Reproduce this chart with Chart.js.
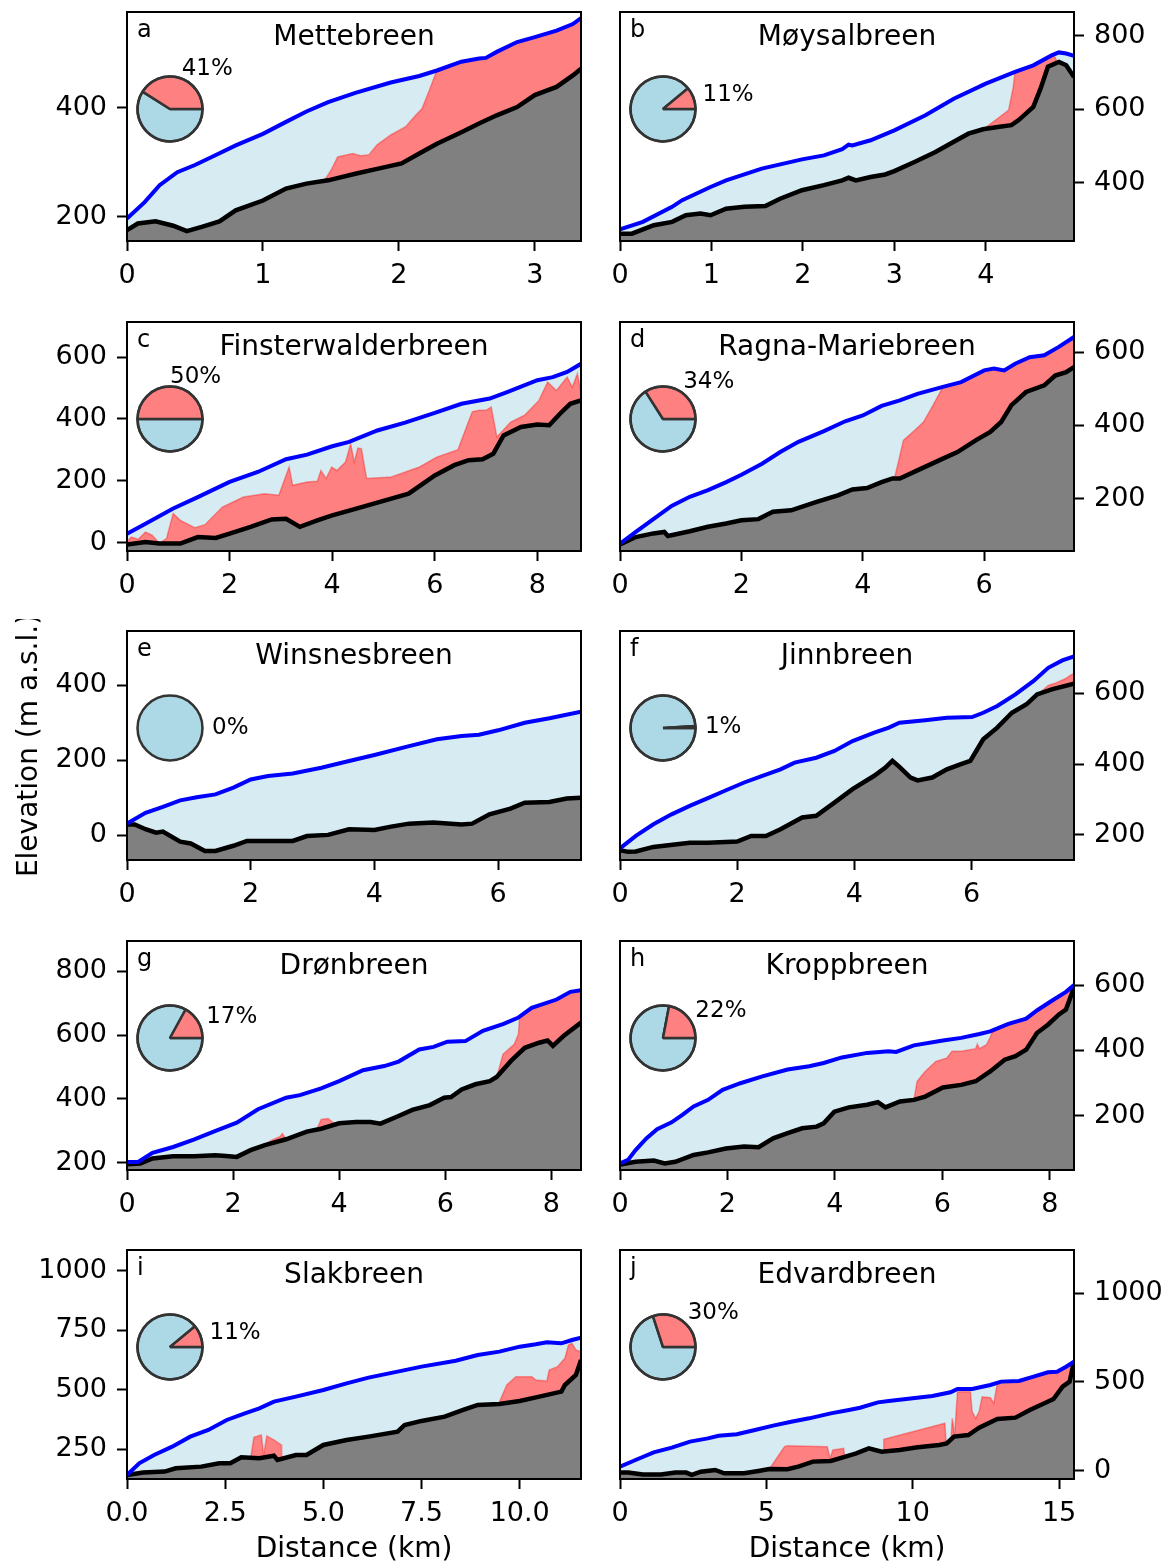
<!DOCTYPE html>
<html>
<head>
<meta charset="utf-8">
<script src="https://cdn.jsdelivr.net/npm/chart.js@4.4.1/dist/chart.umd.min.js"></script>
<style>
  html, body { margin: 0; padding: 0; background: #fff; }
  body { position: relative; width: 1167px; height: 1563px; overflow: hidden; }
  canvas { position: absolute; }
</style>
</head>
<body>
<script>
// profiles: [distance (km), elevation (m a.s.l.)]
const metteSurface = [[0,197],[0.13,227],[0.24,258],[0.37,282],[0.5,295],[0.65,313],[0.8,331],[1.0,352],[1.17,374],[1.32,393],[1.48,410],[1.68,427],[1.94,446],[2.15,458],[2.28,468],[2.46,484],[2.59,490],[2.64,491],[2.72,502],[2.87,520],[3.0,529],[3.16,541],[3.28,553],[3.34,564]];
const metteBed = [[0,176],[0.08,188],[0.21,192],[0.34,184],[0.44,174],[0.55,182],[0.68,192],[0.8,212],[1.0,230],[1.17,252],[1.32,261],[1.48,267],[1.68,279],[1.84,288],[2.02,298],[2.15,316],[2.28,334],[2.46,355],[2.59,371],[2.72,386],[2.87,401],[3.0,423],[3.16,438],[3.28,459],[3.34,471]];
const metteTemperate = [[1.45,266],[1.5,285],[1.55,310],[1.62,314],[1.66,316],[1.72,312],[1.78,314],[1.84,332],[1.94,350],[2.05,365],[2.12,385],[2.17,398],[2.22,429],[2.27,462],[2.28,468],[2.46,484],[2.59,490],[2.64,491],[2.72,502],[2.87,520],[3.0,529],[3.16,541],[3.28,553],[3.34,564]];

const moysalSurface = [[0,274],[0.25,294],[0.57,335],[0.68,353],[0.99,389],[1.16,407],[1.55,439],[1.99,464],[2.23,475],[2.43,492],[2.5,504],[2.54,502],[2.74,516],[3.0,543],[3.34,584],[3.65,629],[4.0,670],[4.32,702],[4.52,720],[4.72,747],[4.8,755],[4.88,752],[4.965,746]];
const moysalBed = [[0,262],[0.13,262],[0.37,285],[0.57,294],[0.72,312],[0.88,317],[0.99,312],[1.16,330],[1.36,335],[1.59,337],[1.75,357],[1.99,380],[2.23,394],[2.43,407],[2.5,414],[2.58,407],[2.74,416],[2.9,423],[3.0,432],[3.22,457],[3.45,484],[3.65,512],[3.81,534],[3.97,546],[4.13,552],[4.28,557],[4.36,571],[4.52,607],[4.6,657],[4.68,716],[4.8,729],[4.88,720],[4.965,688]];
const moysalTemperate = [[3.97,546],[4.13,575],[4.25,598],[4.3,660],[4.32,702],[4.52,720],[4.72,747],[4.76,742],[4.78,727]];

const finsterSurface = [[0,30],[0.36,62],[0.9,111],[1.38,148],[2.0,197],[2.55,229],[3.1,270],[3.51,285],[4.0,312],[4.33,326],[4.88,363],[5.42,388],[6.0,420],[6.52,449],[7.07,466],[7.41,487],[8.0,525],[8.3,535],[8.58,552],[8.85,578]];
const finsterBed = [[0,-5],[0.36,3],[0.63,-2],[1.04,-2],[1.38,19],[1.73,16],[2.0,30],[2.41,52],[2.82,76],[3.1,78],[3.37,52],[3.71,73],[4.0,89],[4.47,111],[4.88,130],[5.49,159],[6.0,218],[6.38,251],[6.66,267],[6.93,270],[7.14,288],[7.34,347],[7.68,374],[8.0,382],[8.23,380],[8.44,417],[8.64,449],[8.85,460]];
const finsterTemperate = [[0,3],[0.08,19],[0.22,12],[0.36,35],[0.49,25],[0.63,-1],[0.77,14],[0.9,95],[1.04,73],[1.32,49],[1.52,59],[1.86,116],[2.27,148],[2.68,159],[2.96,154],[3.16,245],[3.23,186],[3.51,197],[3.71,199],[3.78,234],[3.88,208],[3.99,245],[4.09,234],[4.26,261],[4.36,320],[4.43,261],[4.5,306],[4.57,304],[4.67,208],[5.15,213],[5.7,245],[6.04,277],[6.45,301],[6.73,423],[6.86,428],[7.0,428],[7.1,439],[7.21,342],[7.48,390],[7.75,412],[8.03,460],[8.2,519],[8.37,492],[8.58,535],[8.68,503],[8.78,546],[8.85,487]];

const ragnaSurface = [[0,77],[0.26,109],[0.55,144],[0.85,180],[1.15,205],[1.45,223],[1.75,245],[2.0,265],[2.34,295],[2.64,327],[2.94,355],[3.36,384],[3.71,411],[4.0,427],[4.31,453],[4.61,468],[4.9,486],[5.32,505],[5.62,518],[6.0,550],[6.16,555],[6.33,550],[6.51,568],[6.75,586],[6.99,591],[7.23,614],[7.48,641]];
const ragnaBed = [[0,75],[0.26,95],[0.55,105],[0.73,109],[0.79,98],[1.15,111],[1.45,123],[1.75,132],[2.0,141],[2.28,144],[2.52,164],[2.82,168],[3.24,191],[3.59,209],[3.83,225],[4.07,229],[4.31,245],[4.49,255],[4.61,255],[4.9,277],[5.32,309],[5.56,327],[5.86,359],[6.1,382],[6.28,409],[6.45,455],[6.69,491],[6.99,509],[7.17,536],[7.35,545],[7.48,559]];
const ragnaTemperate = [[4.52,255],[4.58,295],[4.67,359],[4.85,386],[5.0,409],[5.14,450],[5.26,486],[5.32,505],[5.62,518],[6.0,550],[6.16,555],[6.33,550],[6.51,568],[6.75,586],[6.99,591],[7.23,614],[7.48,641]];

const winsnesSurface = [[0,31],[0.3,60],[0.58,76],[0.86,93],[1.15,102],[1.43,109],[1.72,127],[2.0,149],[2.28,158],[2.68,165],[3.14,180],[3.59,198],[4.0,214],[4.56,238],[5.01,256],[5.41,265],[5.69,268],[6.0,280],[6.43,300],[6.83,312],[7.34,330]];
const winsnesBed = [[0,29],[0.125,29],[0.3,16],[0.47,7],[0.58,10],[0.86,-17],[1.03,-22],[1.26,-42],[1.43,-42],[1.72,-28],[1.94,-15],[2.28,-15],[2.68,-15],[2.91,-2],[3.25,1],[3.59,16],[4.0,14],[4.27,23],[4.56,31],[4.95,34],[5.41,29],[5.58,31],[5.86,56],[6.2,71],[6.43,87],[6.83,89],[7.11,98],[7.34,100]];
const winsnesTemperate = [];

const jinnSurface = [[0,162],[0.27,197],[0.57,230],[0.88,258],[1.19,282],[1.5,304],[1.81,326],[2.12,348],[2.43,367],[2.74,385],[2.98,404],[3.35,418],[3.66,437],[3.97,465],[4.34,489],[4.59,503],[4.77,517],[5.21,524],[5.58,531],[6.01,533],[6.2,545],[6.44,564],[6.75,597],[7.06,635],[7.31,672],[7.55,693],[7.75,704]];
const jinnBed = [[0,157],[0.14,152],[0.27,153],[0.57,166],[1.19,178],[1.5,178],[2.0,181],[2.24,197],[2.49,197],[2.74,216],[3.11,249],[3.35,254],[3.66,291],[3.97,329],[4.34,367],[4.53,390],[4.65,409],[4.77,392],[4.96,362],[5.08,354],[5.33,362],[5.58,385],[5.82,400],[5.98,409],[6.2,470],[6.44,503],[6.69,545],[6.94,569],[7.12,597],[7.37,611],[7.75,627]];
const jinnTemperate = [[7.15,599],[7.31,622],[7.45,630],[7.6,641],[7.68,650],[7.75,656]];

const dronSurface = [[0,203],[0.21,203],[0.48,232],[0.87,250],[1.27,274],[1.67,300],[2.07,326],[2.47,368],[3.0,404],[3.26,412],[3.66,433],[4.0,456],[4.45,490],[4.85,503],[5.12,517],[5.51,555],[5.78,563],[6.04,579],[6.38,581],[6.71,613],[7.1,635],[7.37,654],[7.63,685],[8.1,711],[8.36,735],[8.56,740]];
const dronBed = [[0,196],[0.25,198],[0.48,214],[0.87,221],[1.27,221],[1.67,224],[1.87,222],[2.07,219],[2.33,240],[2.6,256],[3.0,274],[3.39,298],[3.66,307],[4.0,324],[4.32,328],[4.59,328],[4.78,323],[5.12,347],[5.38,366],[5.71,381],[5.98,404],[6.11,406],[6.31,430],[6.57,446],[6.84,456],[6.97,469],[7.24,519],[7.5,560],[7.77,576],[7.93,583],[8.03,566],[8.23,597],[8.56,639]];
const dronTemperate = [[2.56,254],[2.73,271],[2.88,282],[2.93,292],[2.99,276],[3.0,274],null,[3.58,305],[3.66,336],[3.79,339],[3.92,322],[3.96,322],null,[6.97,469],[7.09,540],[7.3,571],[7.38,602],[7.4,650],[7.63,685],[8.1,711],[8.36,735],[8.56,740]];

const kroppSurface = [[0,53],[0.15,64],[0.29,94],[0.49,130],[0.69,158],[0.96,179],[1.16,202],[1.37,228],[1.64,248],[1.91,279],[2.24,299],[2.65,320],[3.12,341],[3.52,351],[3.79,361],[4.13,378],[4.6,392],[5.0,397],[5.14,395],[5.47,415],[6.01,430],[6.35,438],[6.69,450],[6.89,458],[7.23,481],[7.56,497],[7.76,522],[8.03,551],[8.3,579],[8.45,600]];
const kroppBed = [[0,50],[0.29,58],[0.63,62],[0.83,53],[1.03,58],[1.37,79],[1.64,87],[1.97,99],[2.31,105],[2.58,103],[2.85,130],[3.12,146],[3.39,161],[3.66,166],[3.79,176],[3.99,212],[4.26,225],[4.6,233],[4.8,241],[4.94,225],[5.21,243],[5.47,248],[5.68,258],[6.01,286],[6.35,294],[6.62,305],[6.89,335],[7.16,371],[7.36,382],[7.56,402],[7.76,453],[7.97,479],[8.17,510],[8.3,525],[8.45,592]];
const kroppTemperate = [[5.47,248],[5.53,305],[5.68,335],[5.88,366],[6.08,376],[6.18,397],[6.35,397],[6.62,405],[6.65,419],[6.69,405],[6.82,417],[6.89,440],[6.93,455],[7.23,481],[7.56,497],[7.76,522],[8.03,551],[8.3,579],[8.45,598]];

const slakSurface = [[0,142],[0.31,191],[0.69,226],[1.15,261],[1.61,303],[2.07,331],[2.54,373],[3.0,401],[3.37,422],[3.74,450],[4.3,471],[5.0,499],[5.59,527],[6.15,551],[6.89,576],[7.5,597],[8.37,622],[8.93,646],[9.48,660],[10.0,681],[10.41,691],[10.69,699],[11.06,695],[11.33,709],[11.56,719]];
const slakBed = [[0,142],[0.41,152],[0.96,156],[1.24,170],[1.89,177],[2.35,191],[2.63,191],[2.91,216],[3.37,212],[3.74,223],[3.83,205],[4.3,226],[4.57,226],[5.0,268],[5.59,289],[6.15,303],[6.89,324],[7.07,352],[7.5,369],[8.09,387],[8.56,415],[8.93,436],[9.48,440],[10.0,453],[10.5,471],[11.06,492],[11.15,520],[11.43,562],[11.56,625]];
const slakTemperate = [[3.15,214],[3.23,300],[3.42,310],[3.48,226],[3.56,306],[3.74,289],[3.93,268],[3.94,210],null,[9.46,440],[9.67,520],[9.9,555],[10.31,555],[10.41,541],[10.69,537],[10.75,583],[10.96,597],[11.15,632],[11.24,688],[11.33,695],[11.43,667],[11.56,660]];

const edvardSurface = [[0,23],[0.53,60],[1.15,103],[1.77,130],[2.39,164],[3.0,182],[3.37,197],[3.99,205],[4.61,229],[5.23,254],[5.85,276],[6.46,295],[7.2,323],[7.82,342],[8.2,355],[8.81,385],[9.18,393],[10.0,408],[10.67,421],[11.29,442],[11.53,461],[12.03,461],[12.65,483],[13.02,502],[13.63,506],[14.13,530],[14.62,555],[14.93,558],[15.24,586],[15.51,615]];
const edvardBed = [[0,-11],[0.28,-11],[0.78,-21],[1.4,-21],[1.89,-11],[2.26,-11],[2.45,-24],[2.76,-6],[3.25,4],[3.56,-15],[4.24,-15],[4.73,-2],[5.1,9],[5.72,8],[6.09,23],[6.59,51],[7.2,55],[7.7,79],[8.07,98],[8.5,126],[8.94,107],[9.55,117],[10.17,132],[10.91,145],[11.16,154],[11.41,192],[11.9,201],[12.27,242],[12.89,291],[13.51,299],[14.0,342],[14.5,380],[14.81,404],[15.12,474],[15.36,502],[15.51,615]];
const edvardTemperate = [[5.1,9],[5.62,135],[5.72,141],[7.08,135],[7.18,70],[7.27,117],[7.64,126],[7.68,78],null,[9.0,108],[9.01,177],[11.1,267],[11.14,153],null,[11.31,177],[11.35,295],[11.43,201],[11.53,445],[11.97,445],[12.03,333],[12.15,295],[12.27,333],[12.37,417],[12.65,412],[12.77,380],[12.87,474],[12.9,495],[13.02,502],[13.63,506],[14.13,530],[14.62,555],[14.93,558],[15.24,586],[15.51,612]];

const glacierNames = ['Mettebreen','Møysalbreen','Finsterwalderbreen','Ragna-Mariebreen','Winsnesbreen','Jinnbreen','Drønbreen','Kroppbreen','Slakbreen','Edvardbreen'];
const panelLetters = ['a','b','c','d','e','f','g','h','i','j'];
const temperatePercent = [41, 11, 50, 34, 0, 1, 17, 22, 11, 30];
const distanceMax = [3.34, 4.965, 8.85, 7.48, 7.34, 7.75, 8.56, 8.45, 11.56, 15.51];
const distanceTicks = [[0,1,2,3],[0,1,2,3,4],[0,2,4,6,8],[0,2,4,6],[0,2,4,6],[0,2,4,6],[0,2,4,6,8],[0,2,4,6,8],[0,2.5,5,7.5,10],[0,5,10,15]];
const distanceDecimals = [0,0,0,0,0,0,0,0,1,0];
const elevationMin = [156, 242, -26, 57, -66, 129, 178, 33, 125, -47];
const elevationMax = [575, 865, 713, 682, 545, 776, 894, 735, 1087, 1244];
const elevationTicks = [[200,400],[400,600,800],[0,200,400,600],[200,400,600],[0,200,400],[200,400,600],[200,400,600,800],[200,400,600],[250,500,750,1000],[0,500,1000]];

const surfaces = [metteSurface, moysalSurface, finsterSurface, ragnaSurface, winsnesSurface, jinnSurface, dronSurface, kroppSurface, slakSurface, edvardSurface];
const beds = [metteBed, moysalBed, finsterBed, ragnaBed, winsnesBed, jinnBed, dronBed, kroppBed, slakBed, edvardBed];
const temperates = [metteTemperate, moysalTemperate, finsterTemperate, ragnaTemperate, winsnesTemperate, jinnTemperate, dronTemperate, kroppTemperate, slakTemperate, edvardTemperate];

// page layout
const COL_LEFT = [127, 620];
const ROW_TOP = [12, 322, 631, 941, 1250];
const PLOT_H = 229;

Chart.defaults.font.family = '"DejaVu Sans", sans-serif';
Chart.defaults.color = '#000';

function toXY(pairs) {
  const pts = [];
  let lastX = 0;
  for (const p of pairs) {
    if (p === null) pts.push({x: lastX, y: null});
    else { pts.push({x: p[0], y: p[1]}); lastX = p[0]; }
  }
  return pts;
}

// frame, glacier name and panel letter
const panelDecor = {
  id: 'panelDecor',
  afterDatasetsDraw(chart, args, opts) {
    const ctx = chart.ctx, a = chart.chartArea;
    ctx.save();
    ctx.strokeStyle = '#000';
    ctx.lineWidth = 2;
    ctx.strokeRect(a.left, a.top, a.right - a.left, a.bottom - a.top);
    ctx.fillStyle = '#000';
    ctx.textBaseline = 'alphabetic';
    ctx.font = '28px "DejaVu Sans"';
    ctx.textAlign = 'center';
    ctx.fillText(opts.title, (a.left + a.right) / 2, a.top + 33);
    ctx.font = '24px "DejaVu Sans"';
    ctx.textAlign = 'left';
    ctx.fillText(opts.letter, a.left + 10, a.top + 25);
    ctx.restore();
  }
};

// outline and percentage label of the inset pie
const pieLabel = {
  id: 'pieLabel',
  afterDatasetsDraw(chart, args, opts) {
    const arc = chart.getDatasetMeta(0).data[0];
    const {x, y, outerRadius} = arc.getProps(['x', 'y', 'outerRadius'], true);
    const ctx = chart.ctx;
    ctx.save();
    ctx.beginPath();
    ctx.arc(x, y, outerRadius, 0, Math.PI * 2);
    ctx.strokeStyle = '#333';
    ctx.lineWidth = 2.5;
    ctx.stroke();
    const mid = opts.percent / 100 * Math.PI;
    ctx.fillStyle = '#000';
    ctx.font = '23px "DejaVu Sans"';
    ctx.textAlign = 'left';
    ctx.textBaseline = 'middle';
    ctx.fillText(opts.percent + '%', x + 42 * Math.cos(mid), y - 42 * Math.sin(mid));
    ctx.restore();
  }
};

function tickStyle(pad) {
  return {
    grid: { display: true, drawOnChartArea: false, drawTicks: true, tickLength: 10, tickWidth: 2, tickColor: '#000' },
    border: { display: false },
    ticks: { font: { size: 27 }, color: '#000', padding: pad, autoSkip: false, maxRotation: 0 }
  };
}

function noEdgePadding(s) {
  s.paddingTop = 0; s.paddingBottom = 0; s.paddingLeft = 0; s.paddingRight = 0;
}

for (let k = 0; k < 10; k++) {
  const col = k % 2, row = Math.floor(k / 2);
  const bottomRow = row === 4;
  const xAxisH = bottomRow ? 88 : 60;
  const canvasLeft = col === 0 ? 0 : 600;
  const canvasW = col === 0 ? 600 : 567;
  const canvasH = 12 + PLOT_H + xAxisH;

  const cv = document.createElement('canvas');
  cv.width = canvasW; cv.height = canvasH;
  cv.style.left = canvasLeft + 'px';
  cv.style.top = (ROW_TOP[row] - 12) + 'px';
  cv.style.width = canvasW + 'px'; cv.style.height = canvasH + 'px';
  document.body.appendChild(cv);

  const surf = toXY(surfaces[k]);
  const bed = toXY(beds[k]);
  const temp = toXY(temperates[k]);

  const xs = tickStyle(9);
  const ys = tickStyle(10);
  const dec = distanceDecimals[k];

  new Chart(cv, {
    type: 'line',
    data: {
      datasets: [
        { label: 'ice', data: surf, borderWidth: 0, pointRadius: 0, fill: 2, backgroundColor: 'rgba(173,216,230,0.5)', order: 3 },
        { label: 'temperate', data: temp, borderColor: 'rgba(255,0,0,0.35)', borderWidth: 1.5, pointRadius: 0, fill: 2, backgroundColor: '#ff8080', order: 2, spanGaps: false },
        { label: 'bed', data: bed, borderColor: '#000', borderWidth: 4.5, pointRadius: 0, fill: 'start', backgroundColor: '#808080', order: 1 },
        { label: 'surface', data: surf, borderColor: '#0000ff', borderWidth: 4, pointRadius: 0, fill: false, order: 0 }
      ]
    },
    options: {
      responsive: false,
      animation: false,
      events: [],
      devicePixelRatio: 1,
      layout: { padding: { top: 12, bottom: 0, left: col === 0 ? 0 : 20, right: col === 0 ? 19 : 0 } },
      plugins: {
        legend: { display: false },
        tooltip: { enabled: false },
        filler: { drawTime: 'beforeDatasetsDraw' },
        panelDecor: { title: glacierNames[k], letter: panelLetters[k] }
      },
      scales: {
        x: {
          type: 'linear', position: 'bottom', min: 0, max: distanceMax[k],
          grid: xs.grid, border: xs.border,
          ticks: Object.assign({}, xs.ticks, { callback: v => v.toFixed(dec) }),
          title: { display: bottomRow, text: 'Distance (km)', font: { size: 28 }, color: '#000', padding: 0 },
          afterBuildTicks: s => { s.ticks = distanceTicks[k].map(v => ({ value: v })); },
          afterFit: s => { s.height = xAxisH; noEdgePadding(s); }
        },
        y: {
          type: 'linear', position: col === 0 ? 'left' : 'right',
          min: elevationMin[k], max: elevationMax[k],
          grid: ys.grid, border: ys.border,
          ticks: Object.assign({}, ys.ticks, { callback: v => String(v) }),
          title: { display: k === 4, text: 'Elevation (m a.s.l.)', font: { size: 28 }, color: '#000', padding: { top: 13, bottom: 0 } },
          afterBuildTicks: s => { s.ticks = elevationTicks[k].map(v => ({ value: v })); },
          afterFit: s => { s.width = col === 0 ? 127 : 93; noEdgePadding(s); }
        }
      }
    },
    plugins: [panelDecor]
  });

  // inset pie: share of temperate ice
  const pc = document.createElement('canvas');
  pc.width = 220; pc.height = 130;
  const cx = COL_LEFT[col] + 43, cy = ROW_TOP[row] + 97;
  pc.style.left = (cx - 110) + 'px';
  pc.style.top = (cy - 65) + 'px';
  pc.style.width = '220px'; pc.style.height = '130px';
  document.body.appendChild(pc);
  const p = temperatePercent[k];
  new Chart(pc, {
    type: 'pie',
    data: {
      labels: ['cold', 'temperate'],
      datasets: [{
        data: [100 - p, p],
        backgroundColor: ['#add8e6', '#ff8080'],
        borderColor: '#333',
        borderWidth: p === 0 ? 0 : 2.5,
        radius: 32.5
      }]
    },
    options: {
      responsive: false,
      animation: false,
      events: [],
      devicePixelRatio: 1,
      rotation: 90,
      plugins: { legend: { display: false }, tooltip: { enabled: false }, pieLabel: { percent: p } }
    },
    plugins: [pieLabel]
  });
}
</script>
</body>
</html>
